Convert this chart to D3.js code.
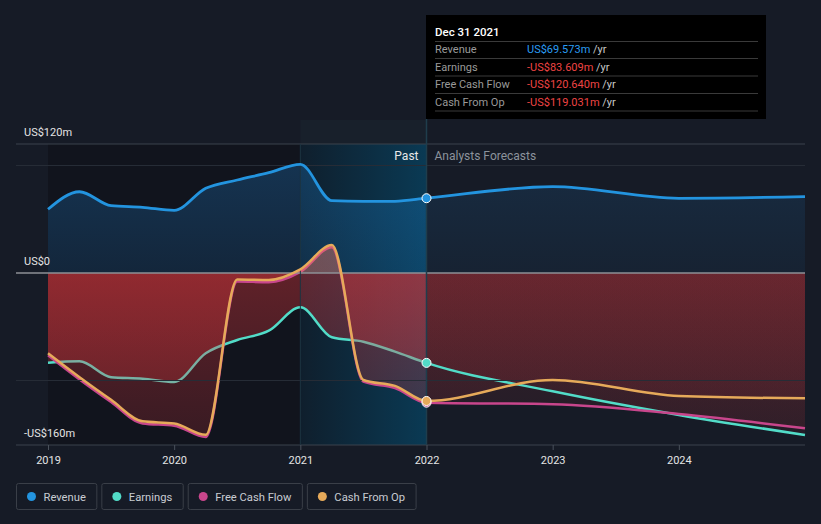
<!DOCTYPE html>
<html><head><meta charset="utf-8">
<script src="https://cdn.jsdelivr.net/npm/d3@7"></script>
<style>
html,body{margin:0;padding:0;background:#161b26;}
svg{display:block;font-family:Roboto,"Noto Sans",sans-serif;}
</style></head><body>
<svg id="chart" width="821" height="524"></svg>
<script>
// ---------- data ----------
const pastPeriods = [2019, 2019.25, 2019.5, 2019.75, 2020, 2020.25, 2020.5, 2020.75, 2021, 2021.25, 2021.5, 2021.75, 2022];
const forecastPeriods = [2022, 2023, 2024, 2025];

const revenuePast  = [59.3, 75.6, 62.6, 61.1, 58.3, 78.8, 86.5, 93.3, 101.1, 67.3, 66.7, 66.7, 69.573];
const earningsPast = [-83.4, -82.2, -97.0, -98.3, -101.4, -74.7, -62.3, -53.7, -31.9, -59.8, -63.9, -73.2, -83.609];
const fcfPast      = [-76.5, -99.0, -120.0, -140.0, -142.0, -152.5, -8.0, -8.5, 1.0, 24.0, -101.0, -107.0, -120.640];
const cfoPast      = [-74.7, -97.0, -118.0, -138.0, -140.0, -150.5, -6.0, -6.5, 3.4, 26.0, -99.5, -105.0, -119.031];

const revenueForecast  = [69.573, 80.3, 69.5, 71.0];
const earningsForecast = [-83.609, -110.0, -132.0, -150.7];
const fcfForecast      = [-120.640, -122.0, -131.2, -144.5];
const cfoForecast      = [-119.031, -99.5, -114.4, -116.6];

const gridValues = [120, 100, 0, -100, -160];
const yLabelValues = [120, 0, -160];
const yLabelTexts = ["US$120m", "US$0", "-US$160m"];
const xTickValues = [2019, 2020, 2021, 2022, 2023, 2024];

const seriesNames  = ["Revenue", "Earnings", "Free Cash Flow", "Cash From Op"];
const seriesColors = ["#2394df", "#52dcc8", "#c8468c", "#e6aa5a"];

const tooltipTitle = "Dec 31 2021";
const tooltipValues = ["US$69.573m", "-US$83.609m", "-US$120.640m", "-US$119.031m"];
const tooltipValueColors = ["#2a9df4", "#ee4444", "#ee4444", "#ee4444"];

// ---------- setup ----------
const W = 821, H = 524;
const svg = d3.select("#chart");
const x = d3.scaleLinear().domain([2019, 2025]).range([48, 805]);
const y = d3.scaleLinear().domain([-160, 120]).range([445, 144]);
const xNow = x(2022);
const plotLeft = 16, plotRight = 805;

function join(p, f) {
  const pts = p.map((v, i) => ({t: pastPeriods[i], v}));
  f.forEach((v, i) => { if (i > 0) pts.push({t: forecastPeriods[i], v}); });
  return pts;
}
const revenue = join(revenuePast, revenueForecast);
const earnings = join(earningsPast, earningsForecast);
const fcf = join(fcfPast, fcfForecast);
const cfo = join(cfoPast, cfoForecast);

const line = d3.line().x(d => x(d.t)).y(d => y(d.v)).curve(d3.curveMonotoneX);
const area = d3.area().x(d => x(d.t)).y0(y(0)).y1(d => y(d.v)).curve(d3.curveMonotoneX);

// ---------- defs ----------
const defs = svg.append("defs");
defs.append("clipPath").attr("id", "clipPast").append("rect")
  .attr("x", 0).attr("y", 0).attr("width", xNow).attr("height", H);
defs.append("clipPath").attr("id", "clipFut").append("rect")
  .attr("x", xNow).attr("y", 0).attr("width", W - xNow).attr("height", H);

function vGrad(id, y1, y2, stops) {
  const g = defs.append("linearGradient").attr("id", id)
    .attr("gradientUnits", "userSpaceOnUse")
    .attr("x1", 0).attr("x2", 0).attr("y1", y1).attr("y2", y2);
  stops.forEach(s => g.append("stop").attr("offset", s[0]).attr("stop-color", s[1]).attr("stop-opacity", s[2]));
}
vGrad("revPast", y(110), y(0), [[0, "#2196f3", 0.25], [1, "#2196f3", 0.14]]);
vGrad("revFut", y(110), y(0), [[0, "#2196f3", 0.14], [1, "#2196f3", 0.06]]);
const zOff = (y(0) - y(120)) / (y(-160) - y(120));
vGrad("negPast", y(120), y(-160), [[0, "#f07864", 0.42], [zOff, "#f07864", 0.42], [zOff, "#e1373c", 0.38], [1, "#e1373c", 0.18]]);
vGrad("negFut", y(120), y(-160), [[0, "#e1373c", 0.16], [zOff, "#e1373c", 0.16], [1, "#e1373c", 0.06]]);
const bandG = defs.append("linearGradient").attr("id", "band")
  .attr("gradientUnits", "userSpaceOnUse").attr("x1", x(2021)).attr("x2", xNow).attr("y1", 0).attr("y2", 0);
bandG.append("stop").attr("offset", 0).attr("stop-color", "#006ea0").attr("stop-opacity", 0.12);
bandG.append("stop").attr("offset", 1).attr("stop-color", "#006ea0").attr("stop-opacity", 0.42);

// ---------- backgrounds ----------
svg.append("rect").attr("width", W).attr("height", H).attr("fill", "#161b26");
svg.append("rect").attr("x", x(2019)).attr("y", y(120)).attr("width", xNow - x(2019)).attr("height", y(-160) - y(120))
  .attr("fill", "#05050a").attr("opacity", 0.3);
svg.append("rect").attr("x", x(2021)).attr("y", y(120)).attr("width", xNow - x(2021)).attr("height", y(-160) - y(120))
  .attr("fill", "url(#band)");
svg.append("rect").attr("x", x(2021)).attr("y", 120).attr("width", xNow - x(2021)).attr("height", y(120) - 120)
  .attr("fill", "#3c7090").attr("opacity", 0.06);

// ---------- fills ----------
svg.append("path").datum(revenue).attr("d", area).attr("fill", "url(#revPast)").attr("clip-path", "url(#clipPast)");
svg.append("path").datum(revenue).attr("d", area).attr("fill", "url(#revFut)").attr("clip-path", "url(#clipFut)");
[earnings, fcf, cfo].forEach(s => {
  svg.append("path").datum(s).attr("d", area).attr("fill", "url(#negFut)").attr("clip-path", "url(#clipFut)");
});
svg.append("path").datum(earnings).attr("d", area).attr("fill", "url(#negPast)").attr("clip-path", "url(#clipPast)");

// earnings & fcf lines (under the past CFO fill)
svg.append("path").datum(earnings).attr("d", line).attr("fill", "none")
  .attr("stroke", seriesColors[1]).attr("stroke-width", 2.5);
svg.append("path").datum(fcf).attr("d", line).attr("fill", "none")
  .attr("stroke", seriesColors[2]).attr("stroke-width", 2.5);

svg.append("path").datum(cfo).attr("d", area).attr("fill", "url(#negPast)").attr("clip-path", "url(#clipPast)");

// ---------- grid ----------
const gridStyle = v => v === 0 ? ["#8e9196", 1.5] : (v === 120 || v === -160 ? ["#3b424c", 1] : ["#262c36", 1]);
svg.append("g").selectAll("line").data(gridValues).join("line")
  .attr("x1", plotLeft).attr("x2", plotRight)
  .attr("y1", d => y(d)).attr("y2", d => y(d))
  .attr("stroke", d => gridStyle(d)[0]).attr("stroke-width", d => gridStyle(d)[1]);

// band edge lines
svg.append("line").attr("x1", x(2021)).attr("x2", x(2021)).attr("y1", y(120)).attr("y2", y(-160))
  .attr("stroke", "#1c3442").attr("stroke-width", 1);
svg.append("line").attr("x1", xNow).attr("x2", xNow).attr("y1", 119).attr("y2", y(-160))
  .attr("stroke", "#1f3d4c").attr("stroke-width", 1.5);

// ---------- lines ----------
svg.append("path").datum(cfo).attr("d", line).attr("fill", "none")
  .attr("stroke", seriesColors[3]).attr("stroke-width", 2.5);
svg.append("path").datum(revenue).attr("d", line).attr("fill", "none")
  .attr("stroke", seriesColors[0]).attr("stroke-width", 2.8);

// markers
const markers = [[revenueForecast[0], 0], [earningsForecast[0], 1], [fcfForecast[0], 2], [cfoForecast[0], 3]];
svg.append("g").selectAll("circle").data(markers).join("circle")
  .attr("cx", xNow).attr("cy", d => y(d[0])).attr("r", 4.5)
  .attr("fill", d => seriesColors[d[1]]).attr("stroke", "#ffffff").attr("stroke-width", 1);

// ---------- labels ----------
svg.append("text").attr("x", xNow - 8).attr("y", 160).attr("text-anchor", "end")
  .attr("font-size", 12).attr("fill", "#e8e8e8").text("Past");
svg.append("text").attr("x", xNow + 8).attr("y", 160)
  .attr("font-size", 12).attr("fill", "#8c939c").text("Analysts Forecasts");

svg.append("g").selectAll("text").data(yLabelValues).join("text")
  .attr("x", 24).attr("y", d => y(d) - 8)
  .attr("font-size", 11).attr("fill", "#e4e4e4")
  .text((d, i) => yLabelTexts[i]);

// x axis
const xAxis = d3.axisBottom(x).tickValues(xTickValues).tickFormat(d3.format("d")).tickSize(5).tickPadding(6);
const ax = svg.append("g").attr("transform", `translate(0,${y(-160)})`).call(xAxis);
ax.select(".domain").remove();
ax.selectAll(".tick line").attr("stroke", "#4a515b");
ax.selectAll(".tick text").attr("fill", "#e4e4e4").attr("font-size", 11).attr("font-family", "Roboto, sans-serif");

// ---------- tooltip ----------
const tt = svg.append("g");
tt.append("rect").attr("x", 426).attr("y", 15).attr("width", 340).attr("height", 104).attr("fill", "#000000");
tt.append("text").attr("x", 435).attr("y", 35.5).attr("font-size", 11.5).attr("font-weight", 500)
  .attr("fill", "#ffffff").text(tooltipTitle);
[41.5, 58.5, 76, 93.5, 111].forEach(yy => {
  tt.append("line").attr("x1", 435).attr("x2", 758).attr("y1", yy).attr("y2", yy)
    .attr("stroke", "#3a3a3a").attr("stroke-width", 1);
});
const rowY = [53, 70.5, 88, 105.5];
seriesNames.forEach((n, i) => {
  tt.append("text").attr("x", 435).attr("y", rowY[i]).attr("font-size", 11).attr("fill", "#9a9a9a").text(n);
  const t = tt.append("text").attr("x", 527).attr("y", rowY[i]).attr("font-size", 11);
  t.append("tspan").attr("fill", tooltipValueColors[i]).text(tooltipValues[i]);
  t.append("tspan").attr("fill", "#c8c8c8").text(" /yr");
});

// ---------- legend ----------
const lg = svg.append("g");
let lx = 16.5;
seriesNames.forEach((n, i) => {
  const g = lg.append("g");
  const txt = g.append("text").attr("x", lx + 27).attr("y", 500.5).attr("font-size", 11.2)
    .attr("fill", "#c8ccd2").text(n);
  const w = txt.node().getComputedTextLength() + 27 + 11;
  g.insert("rect", "text").attr("x", lx).attr("y", 483.5).attr("width", w).attr("height", 26)
    .attr("rx", 2).attr("fill", "none").attr("stroke", "#3a3f48");
  g.append("circle").attr("cx", lx + 15).attr("cy", 496.5).attr("r", 4.5).attr("fill", seriesColors[i]);
  lx += w + 5;
});
</script>
</body></html>
